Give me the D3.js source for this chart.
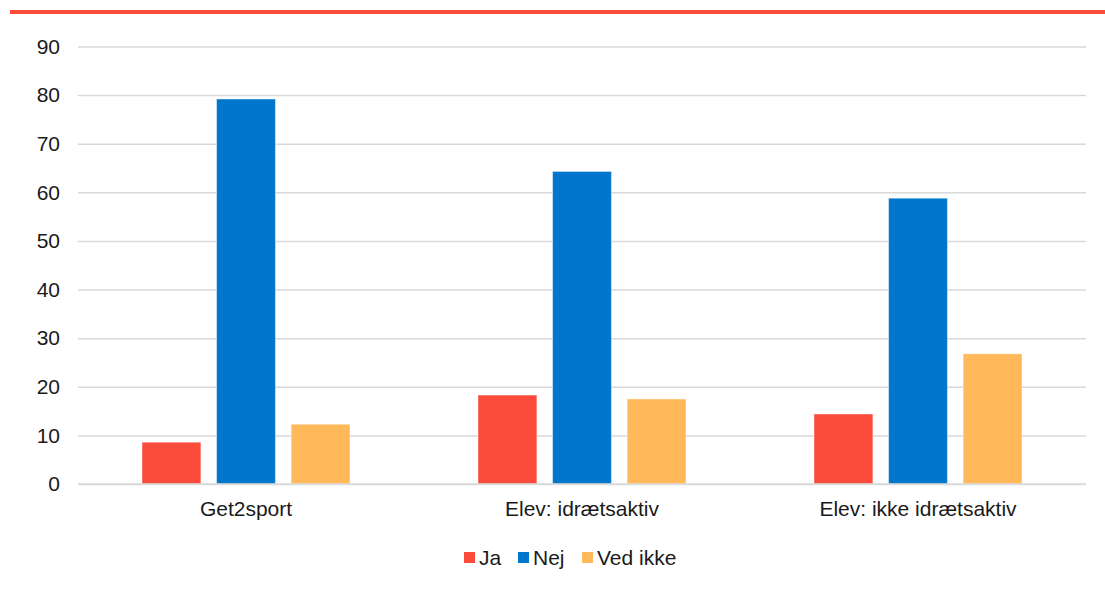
<!DOCTYPE html>
<html>
<head>
<meta charset="utf-8">
<script src="https://cdn.jsdelivr.net/npm/d3@7"></script>
<style>
  body { margin: 0; background: #fff; }
  text { font-family: "Liberation Sans", Arial, sans-serif; fill: #1a1a1a; }
</style>
</head>
<body>
<script>
var categories = ['Get2sport', 'Elev: idrætsaktiv', 'Elev: ikke idrætsaktiv'];
var seriesNames = ['Ja', 'Nej', 'Ved ikke'];
var ja = [8.6, 18.3, 14.4];
var nej = [79.2, 64.3, 58.8];
var vedIkke = [12.3, 17.5, 26.8];
var yTicks = [0, 10, 20, 30, 40, 50, 60, 70, 80, 90];
var colors = ['#fa4b3b', '#0076cd', '#ffb95a'];

var width = 1105;
var height = 592;
var plotLeft = 78, plotRight = 1086, plotTop = 46.5, plotBottom = 484;
var fontSize = '21px';

var svg = d3.select('body').append('svg')
  .attr('width', width)
  .attr('height', height);

// red rule at top
svg.append('rect')
  .attr('x', 10).attr('y', 10)
  .attr('width', width - 10).attr('height', 4)
  .attr('fill', '#fa4b3b');

var y = d3.scaleLinear().domain([0, 90]).range([plotBottom, plotTop]);
var x0 = d3.scaleBand().domain(categories).range([plotLeft, plotRight]);
var x1 = d3.scaleBand().domain(seriesNames).range([0, 208]).paddingInner(0.21);

var yAxis = svg.append('g')
  .attr('transform', 'translate(' + plotLeft + ',0)')
  .call(d3.axisLeft(y).tickValues(yTicks).tickSize(-(plotRight - plotLeft)).tickPadding(18));
yAxis.select('.domain').remove();
yAxis.selectAll('line').attr('stroke', '#d9d9d9').attr('stroke-width', 1.5);
yAxis.selectAll('text').style('font-size', fontSize).style('font-family', '"Liberation Sans", Arial, sans-serif').attr('fill', '#1a1a1a');

var data = [ja, nej, vedIkke];

var groups = svg.selectAll('.grp')
  .data(categories)
  .enter().append('g')
  .attr('transform', function(d) { return 'translate(' + (x0(d) + x0.bandwidth() / 2 - 104) + ',0)'; });

groups.selectAll('rect')
  .data(function(d, i) { return seriesNames.map(function(s, j) { return { s: s, v: data[j][i], c: colors[j] }; }); })
  .enter().append('rect')
  .attr('x', function(d) { return x1(d.s); })
  .attr('y', function(d) { return y(d.v); })
  .attr('width', x1.bandwidth())
  .attr('height', function(d) { return plotBottom - y(d.v); })
  .attr('fill', function(d) { return d.c; })
  .attr('stroke', 'rgba(255,255,255,0.45)')
  .attr('stroke-width', 1);

// baseline
svg.append('line')
  .attr('x1', plotLeft).attr('x2', plotRight)
  .attr('y1', y(0)).attr('y2', y(0))
  .attr('stroke', '#d9d9d9').attr('stroke-width', 1.5);

var xAxis = svg.append('g')
  .attr('transform', 'translate(0,' + plotBottom + ')')
  .call(d3.axisBottom(x0).tickSize(0).tickPadding(17));
xAxis.select('.domain').remove();
xAxis.selectAll('text').style('font-size', fontSize).style('font-family', '"Liberation Sans", Arial, sans-serif').attr('fill', '#1a1a1a');

// legend
var legendX = [464, 518, 582];
var legend = svg.selectAll('.leg')
  .data(seriesNames)
  .enter().append('g')
  .attr('transform', function(d, i) { return 'translate(' + legendX[i] + ',552)'; });
legend.append('rect')
  .attr('width', 11).attr('height', 11)
  .attr('fill', function(d, i) { return colors[i]; });
legend.append('text')
  .attr('x', 15).attr('y', 13)
  .style('font-size', fontSize)
  .text(function(d) { return d; });
</script>
</body>
</html>
